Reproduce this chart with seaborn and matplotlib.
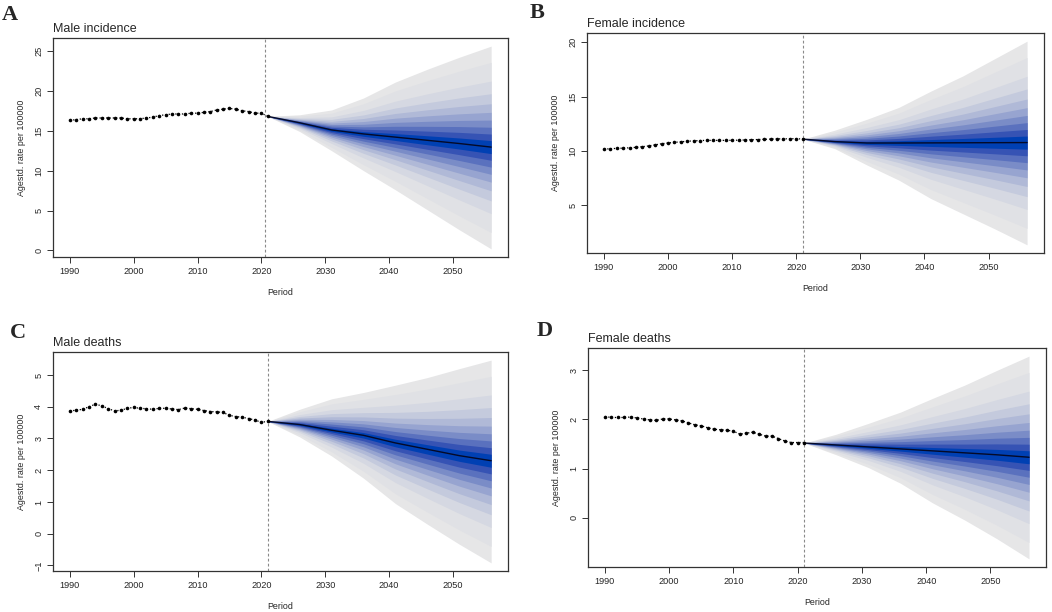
from statistics import NormalDist

import numpy as np
import seaborn as sns
import matplotlib
matplotlib.use("Agg")
import matplotlib.pyplot as plt

#***************** Data ************************

years_obs = list(range(1990, 2022))
proj_years = [2021, 2026, 2031, 2036, 2041, 2046, 2051, 2056]

male_inc_obs = [16.3, 16.4, 16.5, 16.5, 16.6, 16.6, 16.6, 16.6, 16.6, 16.5, 16.5, 16.5, 16.6, 16.7, 16.9, 17.0,
                17.1, 17.1, 17.1, 17.2, 17.2, 17.3, 17.4, 17.6, 17.7, 17.8, 17.7, 17.5, 17.4, 17.2, 17.2, 16.8]
male_inc_mean = [16.8, 16.0, 15.1, 14.6, 14.2, 13.8, 13.4, 12.95]
male_inc_upper = [16.8, 17.0, 17.6, 19.1, 21.1, 22.7, 24.2, 25.6]
male_inc_lower = [16.8, 14.9, 12.5, 10.0, 7.6, 5.1, 2.6, 0.2]

female_inc_obs = [10.15, 10.2, 10.22, 10.25, 10.28, 10.32, 10.38, 10.45, 10.55, 10.65, 10.72, 10.78, 10.83, 10.88,
                  10.92, 10.95, 10.96, 10.96, 10.96, 10.96, 10.97, 10.98, 11.0, 11.02, 11.04, 11.06, 11.08, 11.1,
                  11.1, 11.12, 11.12, 11.08]
female_inc_mean = [11.08, 10.85, 10.72, 10.72, 10.73, 10.74, 10.75, 10.76]
female_inc_upper = [11.08, 11.9, 12.9, 14.0, 15.5, 16.9, 18.5, 20.1]
female_inc_lower = [11.08, 10.2, 8.7, 7.3, 5.6, 4.2, 2.8, 1.34]

male_death_obs = [3.87, 3.89, 3.92, 4.0, 4.08, 4.03, 3.94, 3.87, 3.89, 3.95, 3.98, 3.95, 3.94, 3.92, 3.95, 3.95,
                  3.93, 3.91, 3.96, 3.94, 3.92, 3.88, 3.85, 3.84, 3.82, 3.73, 3.69, 3.67, 3.63, 3.58, 3.51, 3.54]
male_death_mean = [3.54, 3.44, 3.26, 3.10, 2.86, 2.66, 2.46, 2.30]
male_death_upper = [3.54, 3.92, 4.25, 4.45, 4.68, 4.92, 5.20, 5.47]
male_death_lower = [3.54, 3.05, 2.45, 1.75, 0.95, 0.30, -0.33, -0.92]

female_death_obs = [2.06, 2.04, 2.04, 2.04, 2.05, 2.03, 2.01, 1.99, 1.98, 2.01, 2.01, 1.99, 1.97, 1.93, 1.89, 1.87,
                    1.83, 1.80, 1.79, 1.78, 1.76, 1.70, 1.72, 1.74, 1.70, 1.66, 1.66, 1.61, 1.56, 1.53, 1.53, 1.53]
female_death_mean = [1.52, 1.48, 1.44, 1.40, 1.36, 1.32, 1.28, 1.23]
female_death_upper = [1.52, 1.70, 1.92, 2.15, 2.43, 2.70, 3.00, 3.29]
female_death_lower = [1.52, 1.28, 1.02, 0.70, 0.30, -0.05, -0.43, -0.84]

# quantile levels of the fan, outer to inner (outer = 95% interval)
fan_probs = [0.975, 0.95, 0.90, 0.85, 0.80, 0.75, 0.70, 0.65, 0.60, 0.55]

x_ticks = [1990, 2000, 2010, 2020, 2030, 2040, 2050]

panels = [
    # letter, title, obs, mean, upper, lower, yticks, vline, box(left, top, right, bottom) px, letter pos
    ("A", "Male incidence", male_inc_obs, male_inc_mean, male_inc_upper, male_inc_lower,
     [0, 5, 10, 15, 20, 25], 2020.5, (53, 38, 508, 257), (2, 20)),
    ("B", "Female incidence", female_inc_obs, female_inc_mean, female_inc_upper, female_inc_lower,
     [5, 10, 15, 20], 2021.1, (587, 33, 1044, 253), (530, 18)),
    ("C", "Male deaths", male_death_obs, male_death_mean, male_death_upper, male_death_lower,
     [-1, 0, 1, 2, 3, 4, 5], 2021, (53, 352, 508, 571), (10, 338)),
    ("D", "Female deaths", female_death_obs, female_death_mean, female_death_upper, female_death_lower,
     [0, 1, 2, 3], 2021, (588, 348, 1046, 567), (537, 336)),
]

#***************** Plot ************************

sns.set_theme(style="white")
plt.rcParams['font.family'] = ['Liberation Sans', 'DejaVu Sans']

W, H = 1052, 612
fig = plt.figure(figsize=(W / 100, H / 100), dpi=100)

z_out = NormalDist().inv_cdf(fan_probs[0])
fracs = [NormalDist().inv_cdf(p) / z_out for p in fan_probs]

# grey -> slate -> strong blue
grey = np.array([0.90, 0.90, 0.905])
blue = np.array([0.06, 0.20, 0.66])
n = len(fan_probs)
fan_cols = [tuple(grey + (blue - grey) * (i / (n - 1)) ** 1.7) for i in range(n)]
fan_cols[-1] = (0.0, 0.25, 0.70)


def draw_panel(letter, title, obs, mean, upper, lower, yticks, vline, box, lpos):
    l, t, r, b = box
    ax = fig.add_axes([l / W, 1 - b / H, (r - l) / W, (b - t) / H])

    m = np.array(mean)
    up = np.array(upper) - m
    lo = m - np.array(lower)
    for f, c in zip(fracs, fan_cols):
        ax.fill_between(proj_years, m - f * lo, m + f * up, color=c, lw=0, zorder=1)

    sns.lineplot(x=proj_years, y=mean, ax=ax, color="#050a28", lw=1.0, zorder=3)
    sns.lineplot(x=years_obs, y=obs, ax=ax, color="black", lw=0.9, linestyle=":",
                 marker="o", markersize=2.6, markeredgewidth=0, zorder=4)

    ax.axvline(vline, color="#8a8a8a", lw=0.8, ls=(0, (2.5, 2)), zorder=2)

    ax.margins(x=0.04, y=0.04)
    ax.set_xticks(x_ticks)
    ax.set_yticks(yticks)
    ax.tick_params(axis="both", direction="out", length=4, width=0.7, color="#333333",
                   labelsize=6.6, pad=3, bottom=True, left=True)
    for lab in ax.get_yticklabels():
        lab.set_rotation(90)
        lab.set_va("center")
    for s in ax.spines.values():
        s.set_color("#333333")
        s.set_linewidth(0.9)

    ax.set_xlabel("Period", fontsize=6.4, labelpad=9)
    ax.set_ylabel("Agestd. rate per 100000", fontsize=6.4, labelpad=6)

    fig.text(l / W, 1 - (t - 6) / H, title, fontsize=9, ha="left", va="baseline")
    fig.text(lpos[0] / W, 1 - lpos[1] / H, letter, fontsize=16, fontweight="bold",
             family="Liberation Serif", ha="left", va="baseline")
    return ax


for p in panels:
    draw_panel(*p)

fig.savefig("out.png", dpi=100)
